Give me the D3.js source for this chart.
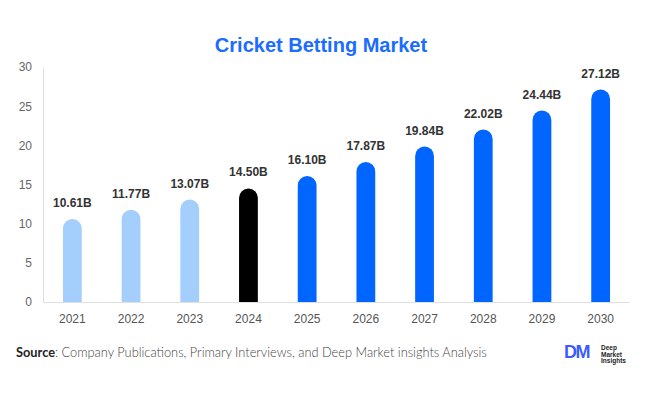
<!DOCTYPE html>
<html><head><meta charset="utf-8">
<script src="https://cdn.jsdelivr.net/npm/d3@7"></script>
<style>body{margin:0;background:#fff}svg{display:block}</style>
</head><body>
<svg id="c" width="646" height="394"></svg>
<script>
const years = ["2021","2022","2023","2024","2025","2026","2027","2028","2029","2030"];
const values = [10.61,11.77,13.07,14.50,16.10,17.87,19.84,22.02,24.44,27.12];
const valueLabels = ["10.61B","11.77B","13.07B","14.50B","16.10B","17.87B","19.84B","22.02B","24.44B","27.12B"];
const yTicks = [0,5,10,15,20,25,30];
const barColors = ["#a4cefb","#a4cefb","#a4cefb","#000000","#0066ff","#0066ff","#0066ff","#0066ff","#0066ff","#0066ff"];

const svg = d3.select("#c");
const x = d3.scaleBand().domain(years).range([43,630]).paddingInner(0.68).paddingOuter(0.34);
const y = d3.scaleLinear().domain([0,30]).range([302,67]);
const font = "'Liberation Sans', Arial, sans-serif";

svg.append("text").attr("x",321).attr("y",52).attr("text-anchor","middle")
  .attr("font-family",font).attr("font-weight","bold").attr("font-size",20).attr("fill","#1a6dff")
  .text("Cricket Betting Market");

// y axis
const ya = svg.append("g").attr("transform","translate(43,0)")
  .call(d3.axisLeft(y).tickValues(yTicks).tickSize(0).tickPadding(11));
ya.select(".domain").attr("stroke","#e0e0e0");
ya.selectAll("text").attr("font-family",font).attr("font-size",12).attr("fill","#666");

const xa = svg.append("g").attr("transform","translate(0,302)")
  .call(d3.axisBottom(x).tickSize(0).tickPadding(12));
xa.select(".domain").attr("stroke","#e0e0e0").attr("d","M43,0.5H630");
xa.selectAll("text").attr("font-family",font).attr("font-size",12).attr("fill","#555");

const bw = x.bandwidth(), r = bw/2;
svg.append("g").selectAll("path").data(values).join("path")
  .attr("fill",(d,i)=>barColors[i])
  .attr("d",(d,i)=>{
    const x0 = x(years[i]), yt = y(d), yb = y(0);
    return `M${x0},${yb}V${yt+r}A${r},${r} 0 0 1 ${x0+bw},${yt+r}V${yb}Z`;
  });

svg.append("g").selectAll("text").data(values).join("text")
  .attr("x",(d,i)=>x(years[i])+bw/2).attr("y",d=>y(d)-12)
  .attr("text-anchor","middle").attr("font-family",font).attr("font-weight","bold")
  .attr("font-size",12).attr("fill","#333").text((d,i)=>valueLabels[i]);

const src = svg.append("text").attr("x",16).attr("y",357).attr("font-family","Lato, 'Open Sans', sans-serif")
  .attr("font-size",12.8).attr("fill","#444");
src.append("tspan").attr("font-weight","bold").attr("fill","#222").text("Source");
src.append("tspan").attr("font-weight","300").text(": Company Publications, Primary Interviews, and Deep Market insights Analysis");

// logo
const lg = svg.append("g");
lg.append("text").attr("x",564).attr("y",358).attr("font-family",font).attr("font-weight","bold")
  .attr("font-size",18).attr("fill","#3b5bff").attr("letter-spacing",-1.5).text("DM");
["Deep","Market","Insights"].forEach((t,i)=>{
  lg.append("text").attr("x",601).attr("y",350+i*6.5).attr("font-family",font).attr("font-weight","bold")
    .attr("font-size",6.5).attr("fill","#222").text(t);
});
</script>
</body></html>
